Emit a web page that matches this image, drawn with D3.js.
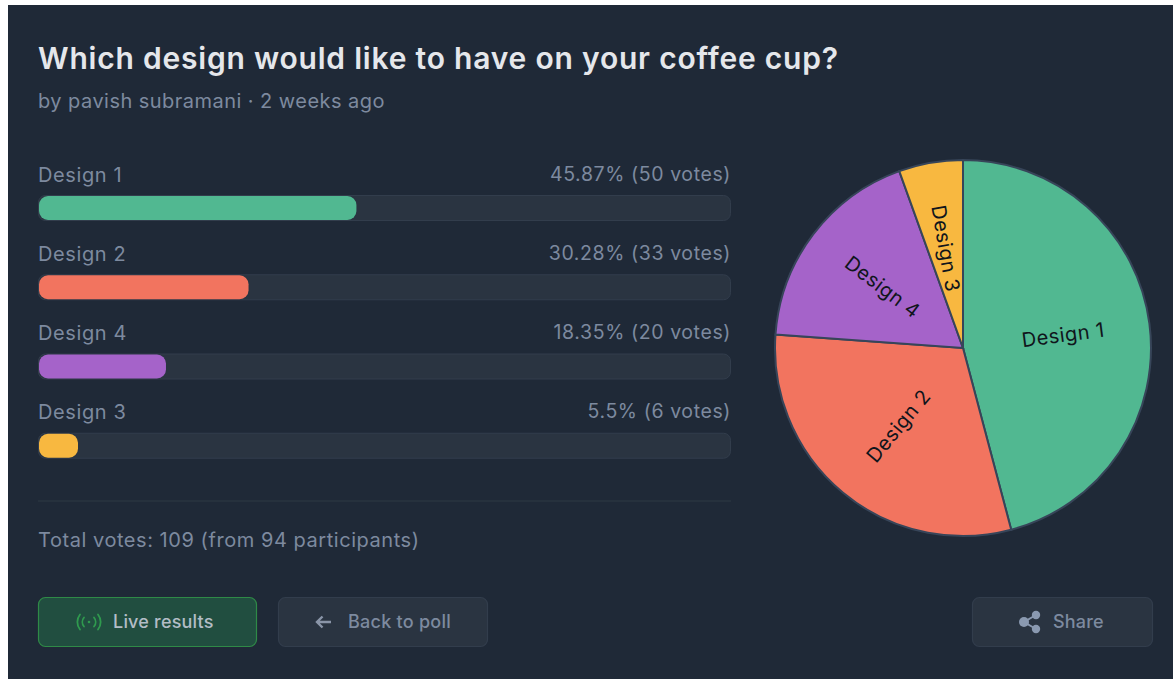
<!DOCTYPE html>
<html>
<head>
<meta charset="utf-8">
<script src="https://cdn.jsdelivr.net/npm/d3@7"></script>
<style>
  html, body { margin: 0; padding: 0; background: #fff; overflow: hidden; }
  svg { display: block; font-family: Inter, sans-serif; }
</style>
</head>
<body>
<svg id="chart" width="1173" height="679"></svg>
<script>
const categories = ["Design 1", "Design 2", "Design 4", "Design 3"];
const votes = [50, 33, 20, 6];
const percents = [45.87, 30.28, 18.35, 5.5];
const colours = ["#51b891", "#f2745f", "#a563c9", "#f8b840"];

const svg = d3.select("#chart");

// card background, the screenshot has a white edge left and top
svg.append("rect").attr("x", 8).attr("y", 5).attr("width", 1165).attr("height", 674).attr("fill", "#1f2937");

function addText(x, y, str, size, colour, anchor = "start", weight = 400, spacing = 0) {
    return svg.append("text")
        .attr("x", x).attr("y", y)
        .attr("text-anchor", anchor)
        .attr("fill", colour)
        .style("font-size", size + "px")
        .style("font-weight", weight)
        .style("letter-spacing", spacing + "px")
        .text(str);
}

const mutedText = "#7d8a9f";

addText(38, 69, "Which design would like to have on your coffee cup?", 30, "#e5e7eb", "start", 600, 0.79);
addText(38, 108, "by pavish subramani · 2 weeks ago", 20, mutedText, "start", 400, 0.46);

// bars
const barX = d3.scaleLinear().domain([0, 100]).range([38.5, 730.5]);
const rowY = d3.scaleBand().domain(categories).range([195.5, 512.5]).paddingInner(0).align(0);

categories.forEach((cat, i) => {
    const top = rowY(cat);
    addText(38, top - 14, cat, 20, mutedText, "start", 400, 0.6);
    addText(731, top - 15, `${percents[i]}% (${votes[i]} votes)`, 19.5, mutedText, "end", 400, 0.6);

    svg.append("rect")
        .attr("x", barX(0)).attr("y", top)
        .attr("width", barX(100) - barX(0)).attr("height", 25)
        .attr("rx", 7)
        .attr("fill", "#2a3441")
        .attr("stroke", "#323d4c");

    svg.append("rect")
        .attr("x", barX(0) + 0.5).attr("y", top + 0.5)
        .attr("width", Math.max(barX(percents[i]) - barX(0), 39)).attr("height", 24)
        .attr("rx", 9)
        .attr("fill", colours[i]);
});

svg.append("line")
    .attr("x1", 38).attr("x2", 731).attr("y1", 501).attr("y2", 501)
    .attr("stroke", "#2a3441").attr("stroke-width", 1.5);

addText(38, 547, "Total votes: 109 (from 94 participants)", 20, mutedText, "start", 400, 0.55);

// pie
const pieCx = 963, pieCy = 348, pieR = 188;
const pie = d3.pie().sort(null).value(d => d.v);
const arcs = pie(categories.map((c, i) => ({ c, v: votes[i], i })));
const arc = d3.arc().innerRadius(0).outerRadius(pieR);
const labelArc = d3.arc().innerRadius(101).outerRadius(101);

const pieG = svg.append("g").attr("transform", `translate(${pieCx},${pieCy})`);

pieG.selectAll("path")
    .data(arcs)
    .join("path")
    .attr("d", arc)
    .attr("fill", d => colours[d.data.i])
    .attr("stroke", "#374559")
    .attr("stroke-width", 2);

pieG.selectAll("text")
    .data(arcs)
    .join("text")
    .attr("transform", d => {
        const [x, y] = labelArc.centroid(d);
        let deg = (d.startAngle + d.endAngle) / 2 * 180 / Math.PI - 90;
        if (deg > 90) deg -= 180;
        return `translate(${x},${y}) rotate(${deg})`;
    })
    .attr("text-anchor", "middle")
    .attr("dominant-baseline", "central")
    .attr("fill", "#10151c")
    .style("font-size", "20px")
    .style("letter-spacing", "0.5px")
    .text(d => d.data.c);

// buttons
function button(x, y, w, h, fill, border) {
    svg.append("rect")
        .attr("x", x + 0.5).attr("y", y + 0.5)
        .attr("width", w - 1).attr("height", h - 1)
        .attr("rx", 7)
        .attr("fill", fill)
        .attr("stroke", border)
        .attr("stroke-width", 1.2);
}

button(38, 597, 219, 50, "#214e40", "#2f8a47");
button(278, 597, 210, 50, "#2a3441", "#323d4c");
button(972, 597, 181, 50, "#2a3441", "#323d4c");

addText(113, 628, "Live results", 18, "#b3bdc6", "start", 500, 0.2);
addText(348, 628, "Back to poll", 18, "#7d8a9f", "start", 500, 0.25);
addText(1053, 628, "Share", 18, "#7d8a9f", "start", 500, 0.2);

// live icon
const live = svg.append("g").attr("transform", "translate(89,622)")
    .attr("fill", "none").attr("stroke", "#2f9a4e").attr("stroke-width", 1.8).attr("stroke-linecap", "round");
live.append("circle").attr("r", 1.3).attr("fill", "#2f9a4e").attr("stroke", "none");
live.append("path").attr("d", "M-5,-4.5 A7,7 0 0 0 -5,4.5 M5,-4.5 A7,7 0 0 1 5,4.5");
live.append("path").attr("d", "M-9,-7.5 A12,12 0 0 0 -9,7.5 M9,-7.5 A12,12 0 0 1 9,7.5");

// back arrow
svg.append("path")
    .attr("d", "M331,622 H317 M322.5,616.5 L317,622 L322.5,627.5")
    .attr("fill", "none").attr("stroke", "#8a95a8").attr("stroke-width", 2.4);

// share icon
const share = svg.append("g").attr("fill", "#8a99b0");
[[1024, 622, 5], [1036, 615, 4.2], [1036, 629, 4.2]].forEach(c => {
    share.append("circle").attr("cx", c[0]).attr("cy", c[1]).attr("r", c[2]);
});
svg.append("path")
    .attr("d", "M1036,615 L1024,622 L1036,629")
    .attr("fill", "none").attr("stroke", "#8a99b0").attr("stroke-width", 2);
</script>
</body>
</html>
